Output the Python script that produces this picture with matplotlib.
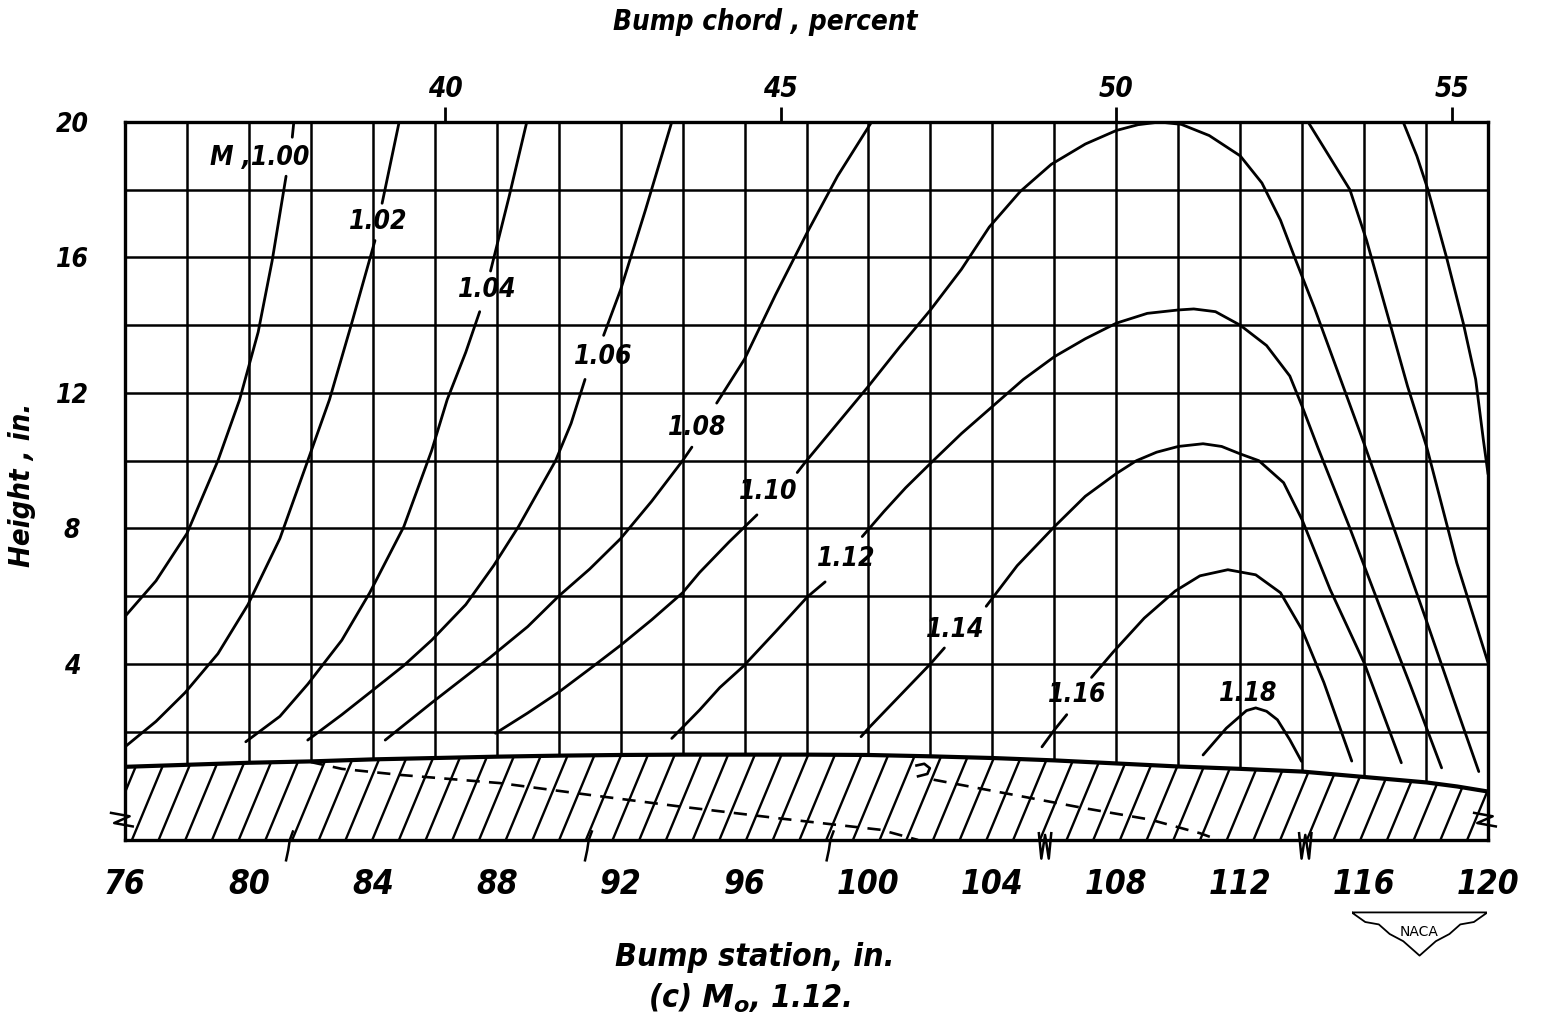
import numpy as np
import matplotlib.pyplot as plt
from matplotlib.patches import Polygon

nan = np.nan

# bump surface (station, in. / height, in.)
bump_x = [76, 78, 80, 82, 84, 86, 88, 90, 92, 94, 96, 98, 100, 102, 104, 106,
          108, 110, 112, 114, 116, 118, 119, 120]
bump_y = [0.96, 1.02, 1.08, 1.12, 1.18, 1.22, 1.26, 1.29, 1.31, 1.32, 1.32, 1.32,
          1.31, 1.27, 1.22, 1.15, 1.06, 0.97, 0.90, 0.82, 0.66, 0.50, 0.38, 0.23]

# dashed lines inside the bump
dash1_x = [82.0, 83.0, 84.9, 88.1, 91.0, 93.9, 97.1, 100.4, 101.6]
dash1_y = [1.10, 0.90, 0.72, 0.48, 0.13, -0.21, -0.56, -0.90, -1.20]
dash2_x = [102.1, 104.7, 106.9, 109.1, 110.7, 111.3]
dash2_y = [0.58, 0.13, -0.25, -0.60, -1.00, -1.20]
hook_x = [101.55, 101.8, 101.98, 101.9, 101.6]
hook_y = [1.00, 1.05, 0.92, 0.75, 0.68]

# local Mach number contours, nan = gap for the label
m100_x = [76, 77, 78, 79, 79.7, 80.3, 80.75, 81.2, nan, 81.4, 81.45]
m100_y = [5.4, 6.45, 7.85, 10.0, 11.8, 13.8, 15.9, 18.4, nan, 19.55, 20.0]

m102_x = [76, 77, 77.94, 79, 79.97, 81, 81.9, 82.6, 83.3, 84.07, nan, 84.3, 84.85]
m102_y = [1.55, 2.3, 3.15, 4.3, 5.75, 7.7, 10.0, 11.8, 14.0, 16.5, nan, 17.6, 20.0]

m104_x = [79.9, 81, 81.9, 83, 83.9, 85, 85.9, 86.4, 87.0, 87.45, nan, 87.8, 88.4, 88.97]
m104_y = [1.7, 2.45, 3.4, 4.7, 6.1, 8.05, 10.3, 11.8, 13.2, 14.4, nan, 15.6, 17.8, 20.0]

m106_x = [81.9, 83, 83.9, 85, 85.9, 87, 87.9, 88.7, 89.9, 90.4, 90.85, nan,
          91.45, 92, 92.8, 93.65]
m106_y = [1.75, 2.5, 3.15, 3.95, 4.7, 5.75, 6.9, 8.05, 10.0, 11.1, 12.4, nan,
          13.7, 15.05, 17.4, 20.0]

m108_x = [84.4, 85.9, 87.8, 89, 90, 91, 92, 93, 94, 94.3, nan,
          95.1, 96, 97, 98, 99, 100.1]
m108_y = [1.75, 2.85, 4.2, 5.1, 6.0, 6.8, 7.7, 8.8, 10.0, 10.4, nan,
          11.7, 13.0, 14.9, 16.7, 18.4, 20.0]

m110_x = [87.96, 89, 89.98, 91, 92, 93, 94, 94.55, 95.5, 96.4, nan,
          97.7, 98, 99, 100, 101, 102, 103, 103.9, 104.9, 105.9, 107, 108,
          108.7, 109.4, 110.1, 111, 112, 112.7, 113.3, 113.8, 114.4, 115.2, 116,
          117, 118, 119, 119.7]
m110_y = [1.95, 2.55, 3.15, 3.85, 4.55, 5.3, 6.1, 6.7, 7.6, 8.4, nan,
          9.65, 10.0, 11.1, 12.2, 13.35, 14.45, 15.65, 16.9, 17.95, 18.75, 19.35, 19.75,
          19.92, 20.0, 19.93, 19.6, 19.0, 18.2, 17.1, 15.9, 14.5, 12.5, 10.5,
          7.9, 5.3, 2.65, 0.82]

m112_x = [93.65, 94.55, 95.2, 95.95, 97, 98.03, 98.6, nan,
          99.8, 100.5, 101.2, 102, 103, 104, 105, 106, 107, 108, 109, 110, 110.5,
          111.2, 112, 112.85, 113.6, 114, 114.5, 115.5, 116.5, 117.5, 118.5]
m112_y = [1.8, 2.64, 3.3, 3.92, 4.95, 5.98, 6.42, nan,
          7.76, 8.5, 9.2, 9.92, 10.8, 11.6, 12.4, 13.07, 13.6, 14.06, 14.35, 14.45, 14.48,
          14.4, 14.0, 13.4, 12.5, 11.6, 10.4, 8.1, 5.7, 3.35, 0.93]

m114_x = [99.76, 100, 101, 102, 102.45, nan,
          103.8, 104.8, 106, 107, 108, 108.65, 109.3, 110, 110.8, 111.4, 112,
          112.6, 113.4, 114, 114.9, 116, 117.2]
m114_y = [1.85, 2.1, 3.05, 4.0, 4.47, nan,
          5.7, 6.9, 8.05, 8.95, 9.62, 10.0, 10.25, 10.42, 10.5, 10.42, 10.2,
          10.0, 9.35, 8.25, 6.2, 4.03, 1.08]

m116_x = [105.6, 106.0, 106.4, nan, 107.2, 107.9, 108.9, 109.9, 110.7, 111.6,
          112.5, 113.3, 114, 114.7, 115.6]
m116_y = [1.55, 2.05, 2.5, nan, 3.6, 4.35, 5.35, 6.15, 6.6, 6.78,
          6.63, 6.1, 5.0, 3.45, 1.13]

m118_x = [110.8, 111.55, 112.2, 112.5, 112.85, 113.2, 113.6, 113.98]
m118_y = [1.31, 2.1, 2.62, 2.7, 2.6, 2.35, 1.76, 1.12]

# two unlabelled lines at the right
right1_x = [114.19, 115.54, 116.08, 116.83, 117.4, 118.02, 118.99, 120]
right1_y = [20.0, 18.0, 16.5, 14.06, 12.2, 10.4, 6.98, 4.03]
right2_x = [117.26, 117.7, 118.06, 118.66, 119.2, 119.6, 119.85, 120]
right2_y = [20.0, 19.0, 18.0, 16.0, 14.06, 12.4, 10.6, 9.6]

labels = ['M ,1.00', '1.02', '1.04', '1.06', '1.08', '1.10', '1.12', '1.14', '1.16', '1.18']
label_x = [80.36, 84.17, 87.69, 91.43, 94.46, 96.76, 99.27, 102.79, 106.73, 112.25]
label_y = [18.94, 17.05, 15.04, 13.06, 10.97, 9.08, 7.09, 5.0, 3.09, 3.1]

xticks = list(range(76, 121, 4))
yticks = [4, 8, 12, 16, 20]
chord_ticks = [40, 45, 50, 55]

FONT = dict(family='DejaVu Sans', stretch='condensed', weight='bold', style='italic')


def st2pct(s):
    return 40 + (np.asarray(s) - 86.33) / 2.167


def pct2st(p):
    return 86.33 + (np.asarray(p) - 40) * 2.167


def main():
    plt.rcParams['mathtext.fontset'] = 'custom'
    plt.rcParams['mathtext.it'] = 'DejaVu Sans:bold:italic'
    plt.rcParams['mathtext.rm'] = 'DejaVu Sans:bold:italic'

    fig = plt.figure(figsize=(15.43, 10.21), dpi=100)
    ax = fig.add_axes([0.081, 0.1773, 0.8834, 0.7032])
    ax.set_xlim(76, 120)
    ax.set_ylim(-1.2, 20)

    # grid
    for gx in range(78, 120, 2):
        ax.plot([gx, gx], [np.interp(gx, bump_x, bump_y), 20], color='black', lw=1.8, zorder=1)
    ax.hlines(range(2, 20, 2), 76, 120, color='black', lw=1.8, zorder=1)

    # bump with hatching
    poly = Polygon(list(zip(bump_x, bump_y)) + [(120, -1.2), (76, -1.2)],
                   closed=True, facecolor='white', edgecolor='none', zorder=2)
    ax.add_patch(poly)
    for x0 in np.arange(74.5, 121, 0.862):
        ln, = ax.plot([x0, x0 + 1.5], [-1.2, -1.2 + 1.5 * 2.2], color='black', lw=1.7, zorder=3)
        ln.set_clip_path(poly)
    ax.plot(bump_x, bump_y, color='black', lw=3.0, zorder=4)
    ax.plot(dash1_x, dash1_y, color='black', lw=1.9, dashes=(5, 3.5), zorder=4)
    ax.plot(dash2_x, dash2_y, color='black', lw=1.9, dashes=(5, 3.5), zorder=4)
    ax.plot(hook_x, hook_y, color='black', lw=1.9, zorder=4)

    # contours
    curves = [(m100_x, m100_y), (m102_x, m102_y), (m104_x, m104_y), (m106_x, m106_y),
              (m108_x, m108_y), (m110_x, m110_y), (m112_x, m112_y), (m114_x, m114_y),
              (m116_x, m116_y), (m118_x, m118_y), (right1_x, right1_y), (right2_x, right2_y)]
    for cx, cy in curves:
        ax.plot(cx, cy, color='black', lw=2.0, zorder=5, solid_capstyle='round',
                solid_joinstyle='round')
    for s, lx, ly in zip(labels, label_x, label_y):
        ax.text(lx, ly, s, ha='center', va='center', fontsize=19, zorder=6, **FONT)

    # break marks
    for bx in [81.3, 90.95, 98.75]:
        ax.plot([bx + 0.12, bx + 0.02, bx - 0.03, bx - 0.1], [-0.95, -1.2, -1.5, -1.8],
                color='black', lw=1.8, clip_on=False, zorder=7)
    for bx in [105.7, 114.1]:
        ax.plot([bx - 0.2, bx - 0.12, bx, bx + 0.12, bx + 0.2], [-1.0, -1.75, -1.05, -1.75, -1.0],
                color='black', lw=1.8, clip_on=False, zorder=7)
    for bx in [76, 120]:
        ax.plot([bx - 0.45, bx + 0.15, bx - 0.35, bx + 0.25], [-0.4, -0.5, -0.7, -0.8],
                color='black', lw=1.8, clip_on=False, zorder=7)

    for sp in ax.spines.values():
        sp.set_linewidth(2.4)
        sp.set_zorder(8)

    ax.set_xticks(xticks)
    ax.set_xticklabels([str(t) for t in xticks], fontsize=24, **FONT)
    ax.set_yticks(yticks)
    ax.set_yticklabels([str(t) for t in yticks], fontsize=19, ha='center', **FONT)
    ax.tick_params(axis='x', length=0, pad=20)
    ax.tick_params(axis='y', length=0, pad=38)

    sec = ax.secondary_xaxis('top', functions=(st2pct, pct2st))
    sec.set_xticks(chord_ticks)
    sec.set_xticklabels([str(t) for t in chord_ticks], fontsize=20, **FONT)
    sec.tick_params(direction='out', length=11, width=2, pad=3)
    sec.spines['top'].set_visible(False)

    ax.set_ylabel('Height , in.', fontsize=21, va='center', **FONT)
    ax.yaxis.set_label_coords(-0.0756, 0.494)

    fig.text(0.496, 0.978, 'Bump chord , percent', ha='center', va='center', fontsize=20, **FONT)
    fig.text(0.489, 0.062, 'Bump station, in.', ha='center', va='center', fontsize=23, **FONT)
    fig.text(0.486, 0.0225, r'(c) $M_o$, 1.12.', ha='center', va='center', fontsize=23, **FONT)

    # NACA badge
    lax = fig.add_axes([0.876, 0.0617, 0.088, 0.047])
    lax.set_xlim(0, 1)
    lax.set_ylim(0, 1)
    lax.axis('off')
    lax.plot([0, 1, 0.9, 0.8, 0.72, 0.62, 0.5, 0.38, 0.28, 0.2, 0.1, 0],
             [0.95, 0.95, 0.75, 0.7, 0.5, 0.35, 0.05, 0.35, 0.5, 0.7, 0.75, 0.95],
             color='black', lw=1.3)
    lax.text(0.5, 0.55, 'NACA', ha='center', va='center', fontsize=10, family='DejaVu Sans')

    fig.savefig('out.png', dpi=100)


if __name__ == '__main__':
    main()
